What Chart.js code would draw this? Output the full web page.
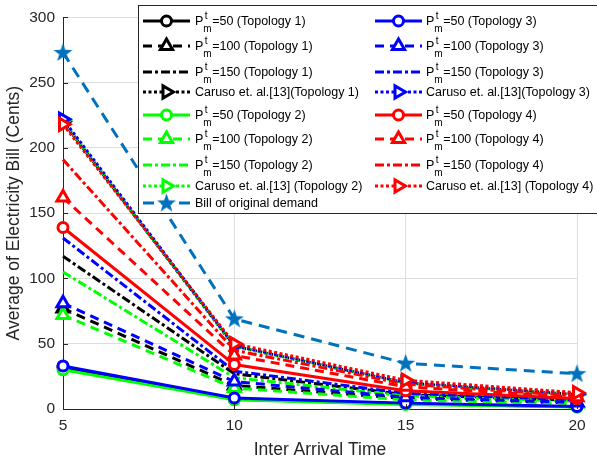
<!DOCTYPE html>
<html>
<head>
<meta charset="utf-8">
<script src="https://cdn.jsdelivr.net/npm/chart.js@4.4.1/dist/chart.umd.min.js"></script>
<style>
html,body{margin:0;padding:0;background:#fff;}
#wrap{width:597px;height:463px;position:relative;}
</style>
</head>
<body>
<div id="wrap"><canvas id="c" width="597" height="463"></canvas></div>
<script>
// ---- data ----
const categories = [5, 10, 15, 20];
const yTicks = [0, 50, 100, 150, 200, 250, 300];
const t1_p50 = [32, 7.5, 4, 1.8];
const t1_p100 = [77, 18, 8, 4.5];
const t1_p150 = [117, 27, 11, 6.5];
const t1_caruso = [220, 48, 20, 11];
const t2_p50 = [30, 7, 3.5, 1.5];
const t2_p100 = [72, 16, 7, 4];
const t2_p150 = [105, 24, 10, 6];
const t2_caruso = [221, 48, 20, 11];
const t3_p50 = [33, 8.5, 4.5, 2];
const t3_p100 = [81, 21, 9, 5];
const t3_p150 = [131, 29, 12, 7];
const t3_caruso = [222, 48.5, 20.5, 11.5];
const t4_p50 = [139, 34, 14, 8];
const t4_p100 = [162, 41, 17, 9];
const t4_p150 = [191, 45, 19, 10];
const t4_caruso = [218, 50, 22, 12.5];
const original = [273, 69, 35, 27];

// ---- styles ----
const FONT = '"Liberation Sans", Arial, Helvetica, sans-serif';
const COLORS = {t1: '#000000', t2: '#00ff00', t3: '#0000ff', t4: '#ff0000', orig: '#0072bd'};
const DASH = {solid: [], dashed: [9, 6], dashdot: [9, 3, 3, 3], dotted: [3, 2.5], orig: [11, 7]};
const LW = 3;

function makeStar(color, size) {
  const cv = document.createElement('canvas');
  cv.width = size; cv.height = size;
  const g = cv.getContext('2d');
  const cx = size / 2, cy = size / 2 + 0.5, R = size / 2 - 0.5, r = R * 0.4;
  g.beginPath();
  for (let i = 0; i < 10; i++) {
    const rad = (i % 2 === 0) ? R : r;
    const a = -Math.PI / 2 + i * Math.PI / 5;
    const px = cx + rad * Math.cos(a), py = cy + rad * Math.sin(a);
    if (i === 0) g.moveTo(px, py); else g.lineTo(px, py);
  }
  g.closePath();
  g.fillStyle = color;
  g.fill();
  return cv;
}
const starImg = makeStar(COLORS.orig, 21);

const MARK = {
  p50: {pointStyle: 'circle', pointRadius: 5, rot: 0, dash: 'solid'},
  p100: {pointStyle: 'triangle', pointRadius: 7, rot: 0, dash: 'dashed'},
  p150: {pointStyle: false, pointRadius: 0, rot: 0, dash: 'dashdot'},
  caruso: {pointStyle: 'triangle', pointRadius: 7, rot: 90, dash: 'dotted'}
};

const seriesList = [
  {key: 't1', kind: 'p50', data: t1_p50, label: ['=50 (Topology 1)', true]},
  {key: 't1', kind: 'p100', data: t1_p100, label: ['=100 (Topology 1)', true]},
  {key: 't1', kind: 'p150', data: t1_p150, label: ['=150 (Topology 1)', true]},
  {key: 't1', kind: 'caruso', data: t1_caruso, label: ['Caruso et. al.[13](Topology 1)', false]},
  {key: 't2', kind: 'p50', data: t2_p50, label: ['=50 (Topology 2)', true]},
  {key: 't2', kind: 'p100', data: t2_p100, label: ['=100 (Topology 2)', true]},
  {key: 't2', kind: 'p150', data: t2_p150, label: ['=150 (Topology 2)', true]},
  {key: 't2', kind: 'caruso', data: t2_caruso, label: ['Caruso et. al.[13] (Topology 2)', false]},
  {key: 't3', kind: 'p50', data: t3_p50, label: ['=50 (Topology 3)', true]},
  {key: 't3', kind: 'p100', data: t3_p100, label: ['=100 (Topology 3)', true]},
  {key: 't3', kind: 'p150', data: t3_p150, label: ['=150 (Topology 3)', true]},
  {key: 't3', kind: 'caruso', data: t3_caruso, label: ['Caruso et. al.[13](Topology 3)', false]},
  {key: 't4', kind: 'p50', data: t4_p50, label: ['=50 (Topology 4)', true]},
  {key: 't4', kind: 'p100', data: t4_p100, label: ['=100 (Topology 4)', true]},
  {key: 't4', kind: 'p150', data: t4_p150, label: ['=150 (Topology 4)', true]},
  {key: 't4', kind: 'caruso', data: t4_caruso, label: ['Caruso et. al.[13] (Topology 4)', false]},
  {key: 'orig', kind: 'orig', data: original, label: ['Bill of original demand', false]}
];

const N = seriesList.length;
const datasets = seriesList.map((s, i) => {
  const color = COLORS[s.key];
  const txt = s.label[1] ? 'Pt_m' + s.label[0] : s.label[0];
  if (s.kind === 'orig') {
    return {
      label: txt, data: categories.map((x, j) => ({x: x, y: s.data[j]})),
      borderColor: color, backgroundColor: color, borderWidth: LW, borderDash: DASH.orig,
      pointStyle: starImg, pointRadius: 10, pointBorderWidth: 0,
      tension: 0, clip: false, order: N - 1 - i
    };
  }
  const m = MARK[s.kind];
  return {
    label: txt, data: categories.map((x, j) => ({x: x, y: s.data[j]})),
    borderColor: color, backgroundColor: '#ffffff', borderWidth: LW, borderDash: DASH[m.dash],
    pointStyle: m.pointStyle, pointRadius: m.pointRadius, pointRotation: m.rot,
    pointBorderColor: color, pointBackgroundColor: '#ffffff', pointBorderWidth: LW,
    tension: 0, clip: false, order: N - 1 - i
  };
});

// ---- custom legend & inward ticks ----
function drawMarker(ctx, kind, color, x, y) {
  ctx.save();
  ctx.setLineDash([]);
  if (kind === 'orig') {
    ctx.drawImage(starImg, x - starImg.width / 2, y - starImg.height / 2);
    ctx.restore();
    return;
  }
  const m = MARK[kind];
  if (!m.pointStyle) { ctx.restore(); return; }
  ctx.lineWidth = LW;
  ctx.strokeStyle = color;
  ctx.fillStyle = '#ffffff';
  ctx.beginPath();
  if (m.pointStyle === 'circle') {
    ctx.arc(x, y, m.pointRadius, 0, Math.PI * 2);
  } else {
    let rad = m.rot * Math.PI / 180;
    const r = m.pointRadius;
    for (let k = 0; k < 3; k++) {
      const px = x + Math.sin(rad) * r, py = y - Math.cos(rad) * r;
      if (k === 0) ctx.moveTo(px, py); else ctx.lineTo(px, py);
      rad += 2 * Math.PI / 3;
    }
    ctx.closePath();
  }
  ctx.fill();
  ctx.stroke();
  ctx.restore();
}

const legendPlugin = {
  id: 'matlabLegend',
  afterDraw(chart) {
    const ctx = chart.ctx;
    // inward ticks
    const xs = chart.scales.x, ys = chart.scales.y, ca = chart.chartArea;
    ctx.save();
    ctx.strokeStyle = '#262626';
    ctx.lineWidth = 1;
    ctx.beginPath();
    categories.forEach(v => { const px = Math.round(xs.getPixelForValue(v)) + 0.5; ctx.moveTo(px, ca.bottom); ctx.lineTo(px, ca.bottom - 5); });
    yTicks.forEach(v => { const py = Math.round(ys.getPixelForValue(v)) + 0.5; ctx.moveTo(ca.left, py); ctx.lineTo(ca.left + 5, py); });
    ctx.stroke();
    ctx.restore();

    // legend box
    const box = {x: 138, y: 5, w: 470, h: 208};
    ctx.save();
    ctx.fillStyle = '#ffffff';
    ctx.fillRect(box.x, box.y, box.w, box.h);
    ctx.strokeStyle = '#262626';
    ctx.lineWidth = 1;
    ctx.strokeRect(box.x + 0.5, box.y + 0.5, box.w, box.h);
    const rowsY = [21, 46, 72, 92, 115, 139, 165, 186, 203];
    const cols = [{x1: 143, x2: 190, tx: 195}, {x1: 375, x2: 422, tx: 426}];
    const place = [];
    // column 1: Topology 1 & 2, then original; column 2: Topology 3 & 4
    for (let i = 0; i < 8; i++) place.push({s: i, col: 0, row: i});
    for (let i = 0; i < 8; i++) place.push({s: 8 + i, col: 1, row: i});
    place.push({s: 16, col: 0, row: 8});
    place.forEach(p => {
      const s = seriesList[p.s];
      const c = cols[p.col];
      const y = rowsY[p.row];
      const color = COLORS[s.key];
      const dash = s.kind === 'orig' ? DASH.orig : DASH[MARK[s.kind].dash];
      ctx.save();
      ctx.strokeStyle = color;
      ctx.lineWidth = LW;
      ctx.setLineDash(dash);
      ctx.beginPath();
      ctx.moveTo(c.x1, y);
      ctx.lineTo(c.x2, y);
      ctx.stroke();
      ctx.restore();
      drawMarker(ctx, s.kind, color, (c.x1 + c.x2) / 2, y);
      ctx.fillStyle = '#000000';
      ctx.textBaseline = 'middle';
      ctx.textAlign = 'left';
      if (s.label[1]) {
        ctx.font = '12.5px ' + FONT;
        ctx.fillText('P', c.tx, y + 1);
        const pw = ctx.measureText('P').width;
        ctx.font = '10px ' + FONT;
        ctx.fillText('t', c.tx + pw + 1.5, y - 5);
        ctx.fillText('m', c.tx + pw, y + 8);
        const mw = ctx.measureText('m').width;
        ctx.font = '12.5px ' + FONT;
        ctx.fillText(s.label[0], c.tx + pw + mw + 0.5, y + 1);
      } else {
        ctx.font = '12.5px ' + FONT;
        ctx.fillText(s.label[0], c.tx, y + 1);
      }
    });
    ctx.restore();
  }
};

new Chart(document.getElementById('c'), {
  type: 'line',
  data: {datasets: datasets},
  plugins: [legendPlugin],
  options: {
    responsive: false,
    animation: false,
    events: [],
    layout: {padding: {top: 5, right: 20, left: 0, bottom: 0}},
    plugins: {legend: {display: false}, tooltip: {enabled: false}},
    scales: {
      x: {
        type: 'linear', min: 5, max: 20,
        afterFit(scale) { scale.height = 54; },
        afterBuildTicks(scale) { scale.ticks = categories.map(v => ({value: v})); },
        ticks: {padding: 7, color: '#262626', font: {family: FONT, size: 15.5}, maxRotation: 0},
        grid: {color: '#dedede', lineWidth: 1, drawTicks: false},
        border: {display: true, color: '#262626', width: 1},
        title: {display: true, text: 'Inter Arrival Time', color: '#262626', font: {family: FONT, size: 17.5}, padding: {top: 0, bottom: 2}}
      },
      y: {
        type: 'linear', min: 0, max: 300,
        afterFit(scale) { scale.width = 63; },
        afterBuildTicks(scale) { scale.ticks = yTicks.map(v => ({value: v})); },
        ticks: {padding: 8, color: '#262626', font: {family: FONT, size: 15.5}},
        grid: {color: '#dedede', lineWidth: 1, drawTicks: false},
        border: {display: true, color: '#262626', width: 1},
        title: {display: true, text: 'Average of Electricity Bill (Cents)', color: '#262626', font: {family: FONT, size: 17.5}, padding: {top: 4, bottom: 0}}
      }
    }
  }
});
</script>
</body>
</html>
